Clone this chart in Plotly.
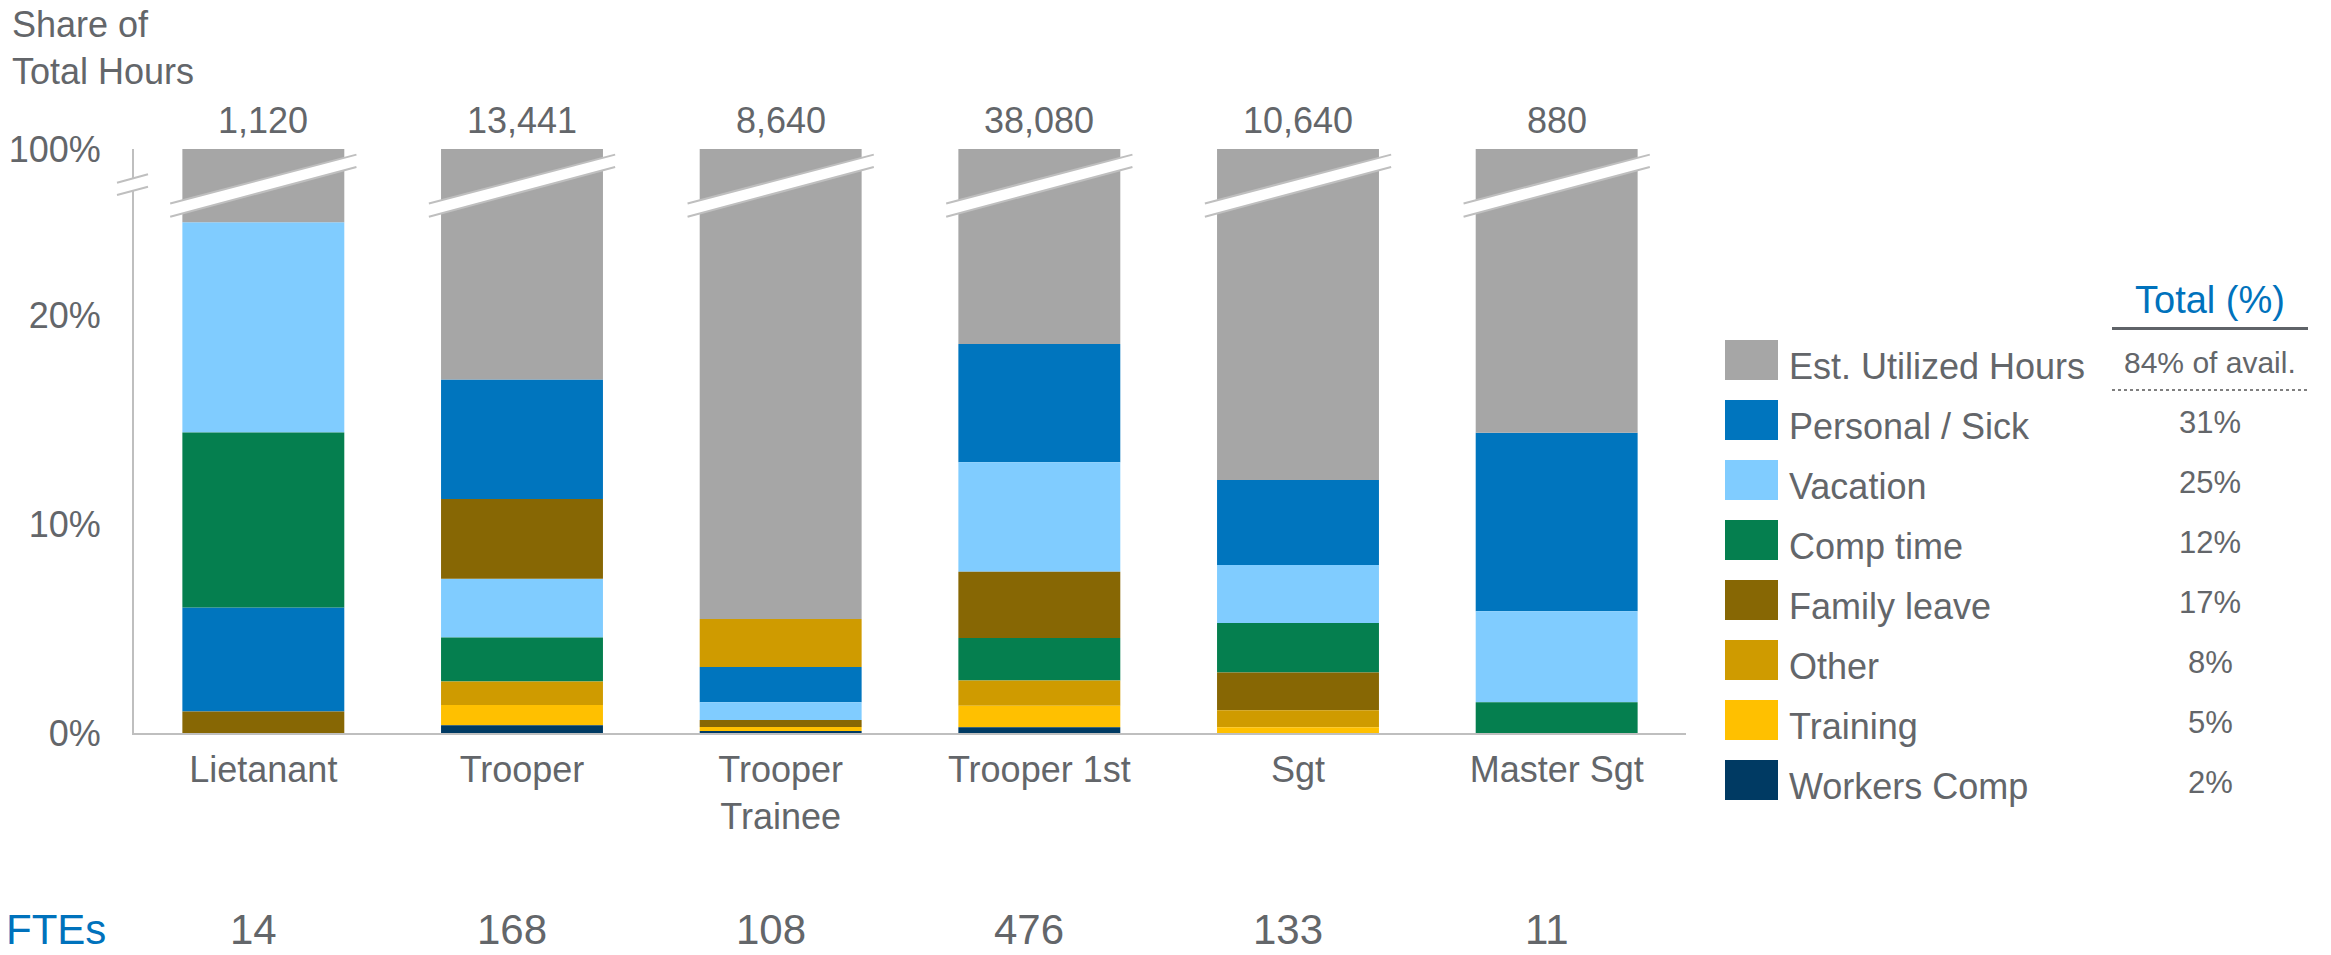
import plotly.graph_objects as go

# categories and headline numbers
categories = ["Lietanant", "Trooper", "Trooper<br>Trainee", "Trooper 1st", "Sgt", "Master Sgt"]
total_hours = [1120, 13441, 8640, 38080, 10640, 880]
ftes = [14, 168, 108, 476, 133, 11]

# share of total hours (%) per leave type
series = ["Personal / Sick", "Vacation", "Comp time", "Family leave", "Other", "Training", "Workers Comp"]
personal_sick = [4.99, 5.73, 1.69, 5.67, 4.08, 8.55]
vacation = [10.08, 2.82, 0.86, 5.25, 2.78, 4.37]
comp_time = [8.39, 2.11, 0.0, 2.03, 2.37, 1.47]
family_leave = [1.03, 3.82, 0.33, 3.18, 1.81, 0.0]
other = [0.0, 1.13, 2.29, 1.21, 0.82, 0.0]
training = [0.0, 0.97, 0.19, 1.04, 0.27, 0.0]
workers_comp = [0.0, 0.37, 0.10, 0.27, 0.0, 0.0]
utilized = [75.5, 83.0, 94.5, 81.4, 87.9, 85.6]

# legend table
legend_names = ["Est. Utilized Hours"] + series
legend_totals = ["84% of avail.", "31%", "25%", "12%", "17%", "8%", "5%", "2%"]

# y axis: linear up to the break, top tick stands for 100%
y_top = 28
y_tickvals = [0, 10, 20, y_top]
y_ticktext = ["0%", "10%", "20%", "100%"]

colors = {
    "Est. Utilized Hours": "#a6a6a6",
    "Personal / Sick": "#0075be",
    "Vacation": "#80ccff",
    "Comp time": "#057f4f",
    "Family leave": "#876704",
    "Other": "#cf9b00",
    "Training": "#ffc000",
    "Workers Comp": "#003a63",
}
TEXT = "#63666a"
BLUE = "#0072bc"
AXIS = "#bfbfbf"
FONT = "Arial, Liberation Sans, sans-serif"

W, H = 2331, 955
L, R, T, B = 134, 1686, 149, 733  # plot area in pixels


def px_x(px):
    return (px - L) / (R - L)


def px_y(py):
    return (B - py) / (B - T)


leave = dict(zip(series, [personal_sick, vacation, comp_time, family_leave,
                          other, training, workers_comp]))
xs = list(range(len(categories)))

# each bar is stacked smallest segment at the bottom
bases = {s: [0.0] * len(xs) for s in series}
tops = []
for i in xs:
    run = 0.0
    for s in sorted(series, key=lambda k: leave[k][i]):
        bases[s][i] = run
        run += leave[s][i]
    tops.append(run)

bar_w = 0.626
fig = go.Figure()
for s in series:
    fig.add_bar(x=xs, y=leave[s], base=bases[s], name=s, width=bar_w,
                marker=dict(color=colors[s], line=dict(width=0)), showlegend=False)
fig.add_bar(x=xs, y=utilized, base=tops, name="Est. Utilized Hours", width=bar_w,
            marker=dict(color=colors["Est. Utilized Hours"], line=dict(width=0)),
            showlegend=False)

shapes = []
# break across each bar
for i in xs:
    x0, x1 = i - 0.36, i + 0.36
    shapes.append(dict(type="path", xref="x", yref="y",
                       path=f"M {x0},24.75 L {x1},27.14 L {x1},27.73 L {x0},25.39 Z",
                       fillcolor="white", line=dict(width=0)))
    shapes.append(dict(type="line", xref="x", yref="y", x0=x0, y0=24.75, x1=x1, y1=27.14,
                       line=dict(color=AXIS, width=2)))
    shapes.append(dict(type="line", xref="x", yref="y", x0=x0, y0=25.39, x1=x1, y1=27.73,
                       line=dict(color=AXIS, width=2)))

# break on the y axis
shapes.append(dict(type="path", xref="paper", yref="paper",
                   path=f"M {px_x(117)},{px_y(195)} L {px_x(148)},{px_y(186.7)} "
                        f"L {px_x(148)},{px_y(174.3)} L {px_x(117)},{px_y(182.7)} Z",
                   fillcolor="white", line=dict(width=0)))
for (ya, yb) in [(182.7, 174.3), (195, 186.7)]:
    shapes.append(dict(type="line", xref="paper", yref="paper",
                       x0=px_x(117), y0=px_y(ya), x1=px_x(148), y1=px_y(yb),
                       line=dict(color=AXIS, width=2)))

annotations = []
# totals above bars
for i, v in zip(xs, total_hours):
    annotations.append(dict(x=i, y=y_top, xref="x", yref="y", text=f"{v:,}",
                            showarrow=False, xanchor="center", yanchor="bottom", yshift=6,
                            font=dict(size=36, color=TEXT)))

# FTE row, kept inside the bottom edge
annotations.append(dict(x=px_x(4), y=px_y(H), xref="paper", yref="paper", text="FTEs",
                        showarrow=False, xanchor="left", yanchor="bottom",
                        font=dict(size=42, color=BLUE)))
for i, v in zip(xs, ftes):
    annotations.append(dict(x=i, y=px_y(H), xref="x", yref="paper", text=str(v),
                            showarrow=False, xanchor="center", yanchor="bottom", xshift=-10,
                            font=dict(size=42, color=TEXT)))

# y axis title
annotations.append(dict(x=px_x(10), y=px_y(2), xref="paper", yref="paper",
                        text="Share of<br>Total Hours", showarrow=False, align="left",
                        xanchor="left", yanchor="top", font=dict(size=36, color=TEXT)))

# legend table
annotations.append(dict(x=px_x(2210), y=px_y(300), xref="paper", yref="paper",
                        text="Total (%)", showarrow=False, xanchor="center", yanchor="middle",
                        font=dict(size=38, color=BLUE)))
shapes.append(dict(type="line", xref="paper", yref="paper", x0=px_x(2112), x1=px_x(2308),
                   y0=px_y(328.5), y1=px_y(328.5), line=dict(color="#5f6368", width=3)))
shapes.append(dict(type="line", xref="paper", yref="paper", x0=px_x(2112), x1=px_x(2308),
                   y0=px_y(390), y1=px_y(390), line=dict(color="#7f7f7f", width=2, dash="dot")))
for k, (name, tot) in enumerate(zip(legend_names, legend_totals)):
    cy = 360 + 60 * k
    shapes.append(dict(type="rect", xref="paper", yref="paper",
                       x0=px_x(1725), x1=px_x(1778), y0=px_y(cy - 20), y1=px_y(cy + 20),
                       fillcolor=colors[name], line=dict(width=0)))
    annotations.append(dict(x=px_x(1787), y=px_y(cy + 6), xref="paper", yref="paper",
                            text=name, showarrow=False, xanchor="left", yanchor="middle",
                            font=dict(size=36, color=TEXT)))
    annotations.append(dict(x=px_x(2210), y=px_y(cy + 2), xref="paper", yref="paper",
                            text=tot, showarrow=False, xanchor="center", yanchor="middle",
                            font=dict(size=30 if k == 0 else 31, color=TEXT)))

fig.update_layout(
    width=W, height=H,
    barmode="overlay",
    plot_bgcolor="white", paper_bgcolor="white",
    font=dict(family=FONT, size=36, color=TEXT),
    margin=dict(l=L, r=W - R, t=T, b=H - B, pad=0, autoexpand=False),
    xaxis=dict(range=[-0.5, 5.5], tickvals=xs, ticktext=categories, showgrid=False,
               zeroline=False, showline=True, linecolor=AXIS, linewidth=2, ticks="",
               ticklabelstandoff=4, fixedrange=True),
    yaxis=dict(range=[0, y_top], tickvals=y_tickvals, ticktext=y_ticktext, showgrid=False,
               zeroline=False, showline=True, linecolor=AXIS, linewidth=2, ticks="",
               ticklabelstandoff=24, fixedrange=True),
    shapes=shapes,
    annotations=annotations,
    showlegend=False,
)

# drop the default body margin so the figure sits at the window corner
fig.write_html("out.html", config={"displayModeBar": False},
               post_script="document.body.style.margin='0';")
